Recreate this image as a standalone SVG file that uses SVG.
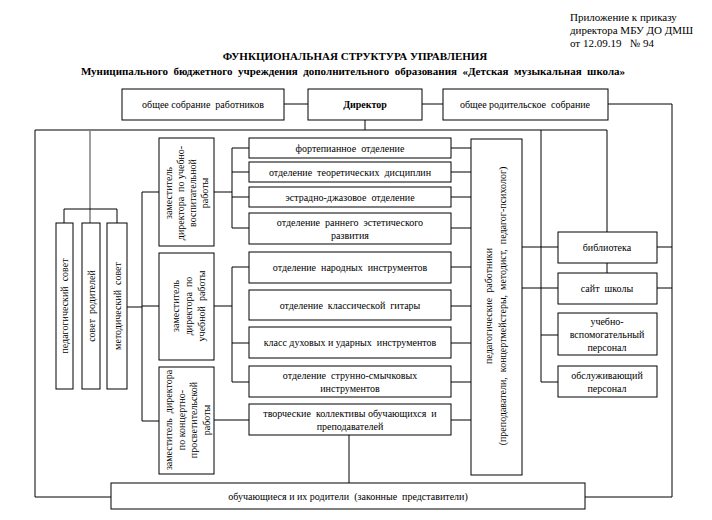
<svg xmlns="http://www.w3.org/2000/svg" width="712" height="520" viewBox="0 0 712 520">
<style>
text{font-family:"Liberation Serif","Times New Roman",serif;fill:#000;white-space:pre}
.t{font-size:10px;text-anchor:middle}
.h{font-size:11px}
.b{font-weight:bold}
.box{fill:#fff;stroke:#000;stroke-width:1}
.ln{fill:none;stroke:#000;stroke-width:1}
.gr{fill:none;stroke:#808080;stroke-width:1.5}
</style>
<rect width="712" height="520" fill="#fff"/>
<g id="header">
<text class="h" x="570" y="21">Приложение к приказу</text>
<text class="h" x="570" y="34">директора МБУ ДО ДМШ</text>
<text class="h" x="570" y="47">от 12.09.19   № 94</text>
<text class="h b" x="355" y="60" text-anchor="middle">ФУНКЦИОНАЛЬНАЯ СТРУКТУРА УПРАВЛЕНИЯ</text>
<text class="h b" x="353" y="75" text-anchor="middle">Муниципального  бюджетного  учреждения  дополнительного  образования  «Детская  музыкальная  школа»</text>
</g>
<g id="connectors">
<path class="ln" d="M284 104H308M422 104H443M608 104H672V497H585"/>
<path class="ln" d="M365 120V130M35 130H607M35 130V497H111M607 130V232M541 130V382"/>
<path class="ln" d="M522 247H558M657 247H672M607 263V273M522 288H558M657 288H672M541 335H558M541 382H558"/>
<path class="gr" d="M90 130V223"/>
<path class="ln" d="M64 223V209H117V223"/>
<path class="ln" d="M127 307H142M142 192V421M142 192H159M142 306H159M142 421H159"/>
<path class="ln" d="M214 192H232M232 148V228M232 148H249M232 172H249M232 197H249M232 228H249"/>
<path class="ln" d="M214 306H232M232 267V382M232 267H249M232 343H249M232 382H249"/>
<path class="ln" d="M214 420H249"/>
<path class="ln" d="M451 148H471M451 172H471M451 197H471M451 228H471M451 267H471M451 306H471M451 343H471M451 382H471M451 420H471"/>
<path class="ln" d="M349 435V483"/>
</g>
<g id="n-sobranie-rab"><rect class="box" x="122" y="89" width="162" height="31"/><text class="t" x="203" y="108">общее собрание  работников</text></g>
<g id="n-director"><rect class="box" x="308" y="89" width="114" height="31"/><text class="t b" x="365" y="108">Директор</text></g>
<g id="n-sobranie-rod"><rect class="box" x="443" y="89" width="165" height="31"/><text class="t" x="525" y="108">общее родительское  собрание</text></g>

<g id="n-pedsovet"><rect class="box" x="56" y="223" width="17" height="166"/><text class="t" transform="translate(68 306) rotate(-90)">педагогический  совет</text></g>
<g id="n-sovet-rod"><rect class="box" x="82" y="223" width="18" height="166"/><text class="t" transform="translate(95 306) rotate(-90)">совет  родителей</text></g>
<g id="n-metsovet"><rect class="box" x="107" y="223" width="20" height="166"/><text class="t" transform="translate(121 306) rotate(-90)">методический  совет</text></g>

<g id="n-zam-uvr"><rect class="box" x="159" y="138" width="55" height="108"/>
<g transform="translate(186 193) rotate(-90)">
<text class="t" x="0" y="-14">заместитель</text>
<text class="t" x="0" y="-2">директора  по учебно-</text>
<text class="t" x="0" y="10">воспитательной</text>
<text class="t" x="0" y="22">работы</text></g></g>
<g id="n-zam-ur"><rect class="box" x="159" y="253" width="55" height="107"/>
<g transform="translate(188 306) rotate(-90)">
<text class="t" x="0" y="-9">заместитель</text>
<text class="t" x="0" y="4">директора  по</text>
<text class="t" x="0" y="17">учебной  работы</text></g></g>
<g id="n-zam-kpr"><rect class="box" x="159" y="367" width="55" height="107"/>
<g transform="translate(187 420) rotate(-90)">
<text class="t" x="0" y="-15">заместитель  директора</text>
<text class="t" x="0" y="-2">по концертно-</text>
<text class="t" x="0" y="10">просветительской</text>
<text class="t" x="0" y="23">работы</text></g></g>

<g id="n-fort"><rect class="box" x="249" y="138" width="202" height="20"/><text class="t" x="350" y="152">фортепианное  отделение</text></g>
<g id="n-teor"><rect class="box" x="249" y="162" width="202" height="20"/><text class="t" x="350" y="176">отделение  теоретических  дисциплин</text></g>
<g id="n-estr"><rect class="box" x="249" y="187" width="202" height="20"/><text class="t" x="350" y="201">эстрадно-джазовое  отделение</text></g>
<g id="n-rann"><rect class="box" x="249" y="213" width="202" height="31"/><text class="t" x="350" y="226">отделение  раннего  эстетического</text><text class="t" x="350" y="239">развития</text></g>
<g id="n-nar"><rect class="box" x="249" y="252" width="202" height="31"/><text class="t" x="350" y="271">отделение  народных  инструментов</text></g>
<g id="n-git"><rect class="box" x="249" y="290" width="202" height="30"/><text class="t" x="350" y="309">отделение  классической  гитары</text></g>
<g id="n-duh"><rect class="box" x="249" y="327" width="202" height="31"/><text class="t" x="350" y="346">класс духовых и ударных  инструментов</text></g>
<g id="n-str"><rect class="box" x="249" y="366" width="202" height="31"/><text class="t" x="350" y="379">отделение  струнно-смычковых</text><text class="t" x="350" y="392">инструментов</text></g>
<g id="n-tvor"><rect class="box" x="249" y="404" width="202" height="31"/><text class="t" x="350" y="417">творческие  коллективы обучающихся  и</text><text class="t" x="350" y="430">преподавателей</text></g>

<g id="n-ped"><rect class="box" x="471" y="139" width="51" height="336"/>
<g transform="translate(497 306) rotate(-90)">
<text class="t" x="0" y="-5">педагогические  работники</text>
<text class="t" x="0" y="9">(преподаватели,  концертмейстеры,  методист,  педагог-психолог)</text></g></g>

<g id="n-bibl"><rect class="box" x="558" y="232" width="99" height="31"/><text class="t" x="607" y="251">библиотека</text></g>
<g id="n-sait"><rect class="box" x="558" y="273" width="99" height="31"/><text class="t" x="607" y="292">сайт  школы</text></g>
<g id="n-uvp"><rect class="box" x="558" y="313" width="99" height="42"/><text class="t" x="607" y="325">учебно-</text><text class="t" x="607" y="338">вспомогательный</text><text class="t" x="607" y="351">персонал</text></g>
<g id="n-obsl"><rect class="box" x="558" y="366" width="99" height="31"/><text class="t" x="607" y="379">обслуживающий</text><text class="t" x="607" y="392">персонал</text></g>

<g id="n-uch"><rect class="box" x="111" y="483" width="474" height="26"/><text class="t" x="348" y="500">обучающиеся и их родители  (законные  представители)</text></g>
</svg>
